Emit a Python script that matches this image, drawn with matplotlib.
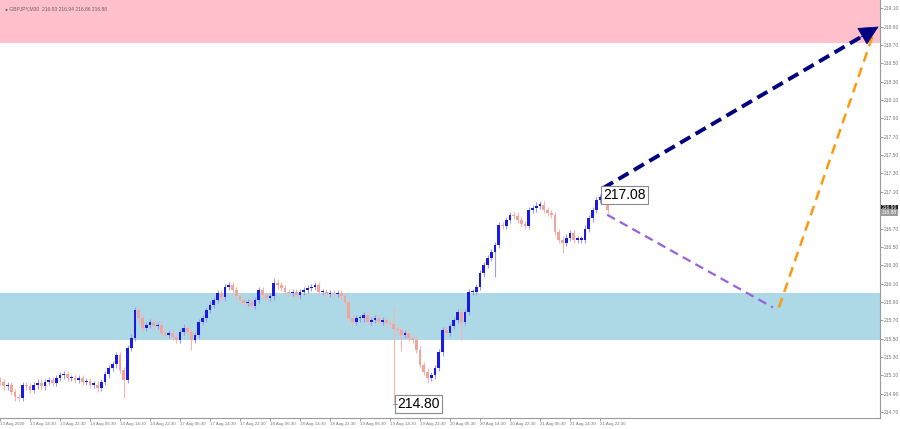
import matplotlib
matplotlib.use("Agg")
import matplotlib.pyplot as plt
import numpy as np

# ---- data (hourly closes) ----
closes = [
    215.03, 214.98, 214.99, 214.92, 214.86, 214.85, 214.99, 214.98, 214.94, 214.99,
    215.02, 214.98, 215.03, 215.05, 215.02, 215.07, 215.10, 215.11, 215.07, 215.07,
    215.05, 215.07, 215.03, 215.04, 215.00, 215.00, 214.96, 215.03, 215.11, 215.18,
    215.22, 215.32, 215.16, 215.05, 215.40, 215.51, 215.81, 215.72, 215.62, 215.65,
    215.68, 215.64, 215.65, 215.56, 215.54, 215.56, 215.52, 215.49, 215.57, 215.62,
    215.57, 215.49, 215.54, 215.68, 215.72, 215.81, 215.87, 215.92, 216.00, 215.95,
    216.06, 216.08, 216.03, 215.96, 215.92, 215.89, 215.90, 215.86, 215.92, 216.03,
    215.97, 215.94, 215.96, 216.11, 216.08, 216.05, 216.01, 216.00, 216.01, 215.97,
    216.01, 216.03, 216.05, 216.06, 216.08, 216.01, 216.01, 215.99, 216.00, 215.99,
    216.00, 215.96, 215.90, 215.72, 215.68, 215.72, 215.72, 215.76, 215.68, 215.70,
    215.72, 215.68, 215.70, 215.67, 215.66, 215.61, 215.59, 215.54, 215.56, 215.51,
    215.49, 215.38, 215.21, 215.14, 215.07, 215.10, 215.18, 215.35, 215.59, 215.56,
    215.64, 215.70, 215.79, 215.68, 215.79, 216.01, 216.01, 216.06, 216.21, 216.30,
    216.38, 216.44, 216.52, 216.74, 216.73, 216.79, 216.85, 216.84, 216.79, 216.75,
    216.73, 216.90, 216.92, 216.95, 216.96, 216.90, 216.87, 216.85, 216.66, 216.58,
    216.54, 216.60, 216.65, 216.58, 216.58, 216.58, 216.70, 216.81, 216.90, 217.01,
    217.04, 217.01, 216.90,
]
first_open = 215.05

# notable wicks (bar index: price)
spike_lows = {4: 214.82, 26: 214.92, 33: 214.85, 51: 215.38, 105: 214.80,
              107: 215.37, 114: 215.02, 123: 215.49, 132: 216.17, 150: 216.43}
spike_highs = {36: 215.84, 73: 216.16, 105: 215.83, 160: 217.08}

x_labels = ["13 Aug 2020", "13 Aug 14:30", "13 Aug 22:30", "14 Aug 06:30", "14 Aug 14:30",
            "14 Aug 22:30", "17 Aug 06:30", "17 Aug 14:30", "17 Aug 22:30", "18 Aug 06:30",
            "18 Aug 14:30", "18 Aug 22:30", "19 Aug 06:30", "19 Aug 14:30", "19 Aug 22:30",
            "20 Aug 06:30", "20 Aug 14:30", "20 Aug 22:30", "21 Aug 06:30", "21 Aug 14:30",
            "21 Aug 22:30"]
bars_per_label = 8

resistance_zone = (218.72, 219.30)
support_zone = (215.49, 216.00)

# forecast paths (bar index, price)
main_wave = [(160.8, 217.14), (234.3, 218.90)]
pullback = [(161.9, 216.85), (206.1, 215.84)]
rebound = [(207.7, 215.84), (232.8, 218.81)]

high_label = (160.8, 217.065, "217.08")
low_label = (105.9, 214.787, "214.80")
header = "\u25cf GBPJPY,M30  216.93 216.94 216.86 216.88"
bid, ask_last = "216.90", "216.88"

# ---- figure ----
fig = plt.figure(figsize=(9, 4.29), dpi=100)
fig.patch.set_facecolor("white")
ax = fig.add_axes([0, 11 / 429, 880 / 900, 418 / 429])
ax.set_xlim(0, 880 / 3.75)
ax.set_ylim(214.635, 219.19)

ax.axhspan(*resistance_zone, color="#FFC0CB", zorder=0, lw=0)
ax.axhspan(*support_zone, color="#ADD8E6", zorder=0, lw=0)

opens = [first_open] + closes[:-1]
WICK = 0.035
for i, (o, c) in enumerate(zip(opens, closes)):
    bull = c >= o
    hi = spike_highs.get(i, max(o, c) + WICK)
    lo = spike_lows.get(i, min(o, c) - WICK)
    body_c = "#1A1AE6" if bull else "#F2A39C"
    wick_c = "#9A9AEE" if bull else "#F5B5B0"
    ax.vlines(i, lo, hi, color=wick_c, lw=0.8, zorder=2)
    h = max(abs(c - o), 0.012)
    ax.add_patch(plt.Rectangle((i - 0.36, min(o, c)), 0.72, h, color=body_c,
                               lw=0, zorder=3))

# forecast lines
(x0, y0), (x1, y1) = main_wave
ax.plot([x0, x1 - 4], [y0, y1 - 0.096], color="#000080", lw=2.8,
        dashes=(3, 1.6), zorder=5, solid_capstyle="butt")
ax.annotate("", xy=(x1, y1), xytext=(x1 - 7, y1 - 0.168),
            arrowprops=dict(arrowstyle="-|>,head_length=1.3,head_width=0.65",
                            color="#000080", lw=0.5, shrinkA=0, shrinkB=0),
            zorder=6)
(x0, y0), (x1, y1) = pullback
ax.plot([x0, x1], [y0, y1], color="#9B5FE0", lw=1.6, dashes=(4, 2.5), zorder=5)
(x0, y0), (x1, y1) = rebound
ax.plot([x0, x1], [y0, y1], color="#FF9A10", lw=1.8, dashes=(4, 2.5), zorder=5)

for x, y, t in (high_label, low_label):
    ax.text(x, y, t, fontsize=10, family="Liberation Sans", ha="left", va="center",
            color="black", zorder=7,
            bbox=dict(boxstyle="square,pad=0.15", fc="white", ec="#8A8A8A", lw=0.8))
ax.plot([low_label[0] - 1, low_label[0]], [low_label[1], low_label[1]],
        color="#888888", lw=0.6, zorder=7)

# axes styling
for s in ["top", "left"]:
    ax.spines[s].set_visible(False)
for s in ["bottom", "right"]:
    ax.spines[s].set_color("#9A9A9A")
    ax.spines[s].set_linewidth(0.8)

yt = np.round(np.arange(214.70, 219.11, 0.2), 2)
ax.yaxis.tick_right()
ax.set_yticks(yt)
# the 216.90 level is hidden behind the live price boxes
ax.set_yticklabels(["" if abs(v - 216.90) < 1e-6 else f"{v:.2f}" for v in yt],
                   family="Liberation Sans")
ax.tick_params(axis="y", labelsize=3.6, colors="#777777", length=2, width=0.5, pad=1)

xt = [k * bars_per_label for k in range(len(x_labels))]
ax.set_xticks(xt)
ax.set_xticklabels(x_labels, ha="left", family="Liberation Sans")
ax.tick_params(axis="x", labelsize=3.2, colors="#777777", length=2, width=0.5, pad=1)

ax.text(0.006, 0.985, header, transform=ax.transAxes, fontsize=3.6, color="#666666",
        family="Liberation Sans", ha="left", va="top")

# current price boxes on the price scale
ax.text(1.002, 216.925, bid, transform=ax.get_yaxis_transform(), fontsize=3.6,
        color="white", ha="left", va="center", clip_on=False, family="Liberation Sans",
        bbox=dict(boxstyle="square,pad=0.15", fc="#222222", ec="none"))
ax.text(1.002, 216.875, ask_last, transform=ax.get_yaxis_transform(), fontsize=3.6,
        color="white", ha="left", va="center", clip_on=False, family="Liberation Sans",
        bbox=dict(boxstyle="square,pad=0.15", fc="#9A9A9A", ec="none"))

fig.savefig("out.png", dpi=100, facecolor="white")
